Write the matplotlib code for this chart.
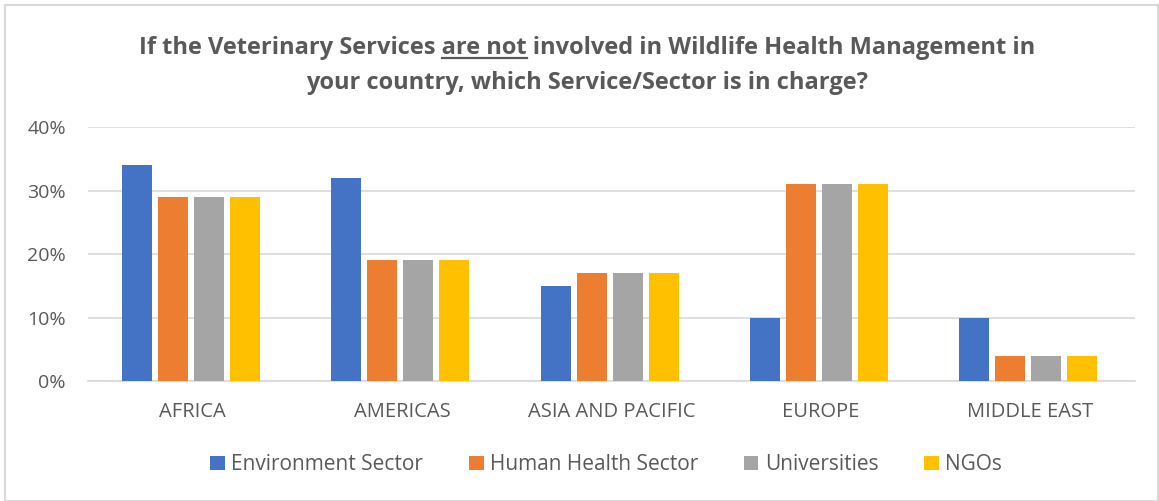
import numpy as np
import matplotlib.pyplot as plt
from matplotlib.lines import Line2D
from matplotlib.patches import Rectangle
from matplotlib.ticker import PercentFormatter

regions = ['AFRICA', 'AMERICAS', 'ASIA AND PACIFIC', 'EUROPE', 'MIDDLE EAST']
sectors = ['Environment Sector', 'Human Health Sector', 'Universities', 'NGOs']
environment = [0.34, 0.32, 0.15, 0.10, 0.10]
human_health = [0.29, 0.19, 0.17, 0.31, 0.04]
universities = [0.29, 0.19, 0.17, 0.31, 0.04]
ngos = [0.29, 0.19, 0.17, 0.31, 0.04]
colors = ['#4472C4', '#ED7D31', '#A5A5A5', '#FFC000']

text_gray = '#595959'
plt.rcParams['font.family'] = ['Liberation Sans Narrow', 'Open Sans', 'DejaVu Sans']

fig = plt.figure(figsize=(11.59, 5.01), dpi=100)
ax = fig.add_axes([0.076, 0.2395, 0.903, 0.507])

x = np.arange(len(regions))
slot = 0.172
width = 0.143
for i, (vals, name) in enumerate(zip([environment, human_health, universities, ngos], sectors)):
    ax.bar(x + (i - 1.5) * slot - 0.008, vals, width, color=colors[i], label=name, zorder=3)

ax.set_xlim(-0.5, len(regions) - 0.5)
ax.set_ylim(0, 0.4)
ax.set_yticks(np.arange(0, 0.41, 0.1))
ax.yaxis.set_major_formatter(PercentFormatter(1.0, decimals=0))
ax.set_xticks(x)
ax.set_xticklabels(regions)
ax.tick_params(axis='x', length=0, pad=15, labelsize=14.5, labelcolor=text_gray)
ax.tick_params(axis='y', length=0, pad=16, labelsize=14, labelcolor=text_gray)
ax.grid(axis='y', color='#D9D9D9', linewidth=1.2, zorder=0)
for s in ['top', 'right', 'left']:
    ax.spines[s].set_visible(False)
ax.spines['bottom'].set_color('#D9D9D9')
ax.spines['bottom'].set_linewidth(1.2)

# title, with "are not" underlined
title_x = 0.5065
title_kw = dict(fontsize=17, fontweight='bold', color=text_gray, ha='center', va='baseline')
line1 = 'If the Veterinary Services are not involved in Wildlife Health Management in'
t1 = fig.text(title_x, 0.893, line1, **title_kw)
fig.text(title_x, 0.823, 'your country, which Service/Sector is in charge?', **title_kw)

renderer = fig.canvas.get_renderer()
def text_width(s):
    tmp = fig.text(0, 0, s, fontsize=17, fontweight='bold')
    w = tmp.get_window_extent(renderer).width
    tmp.remove()
    return w

full_bb = t1.get_window_extent(renderer)
x0 = full_bb.x0 + text_width('If the Veterinary Services ')
x1 = x0 + text_width('are not')
y_line = 0.893 * fig.bbox.height - 4
fig.add_artist(Line2D([x0 / fig.bbox.width, x1 / fig.bbox.width],
                      [y_line / fig.bbox.height] * 2,
                      color=text_gray, linewidth=1.6, transform=fig.transFigure))

fig.legend(loc='center', bbox_to_anchor=(0.523, 0.072), ncol=4, frameon=False,
           fontsize=15, labelcolor=text_gray, handlelength=0.7, handleheight=0.7,
           handletextpad=0.3, columnspacing=2.2)

fig.add_artist(Rectangle((0.004, 0.0), 0.995, 0.99, transform=fig.transFigure,
                         fill=False, edgecolor='#D9D9D9', linewidth=1.5))

fig.savefig('out.png', dpi=100, facecolor='white')
